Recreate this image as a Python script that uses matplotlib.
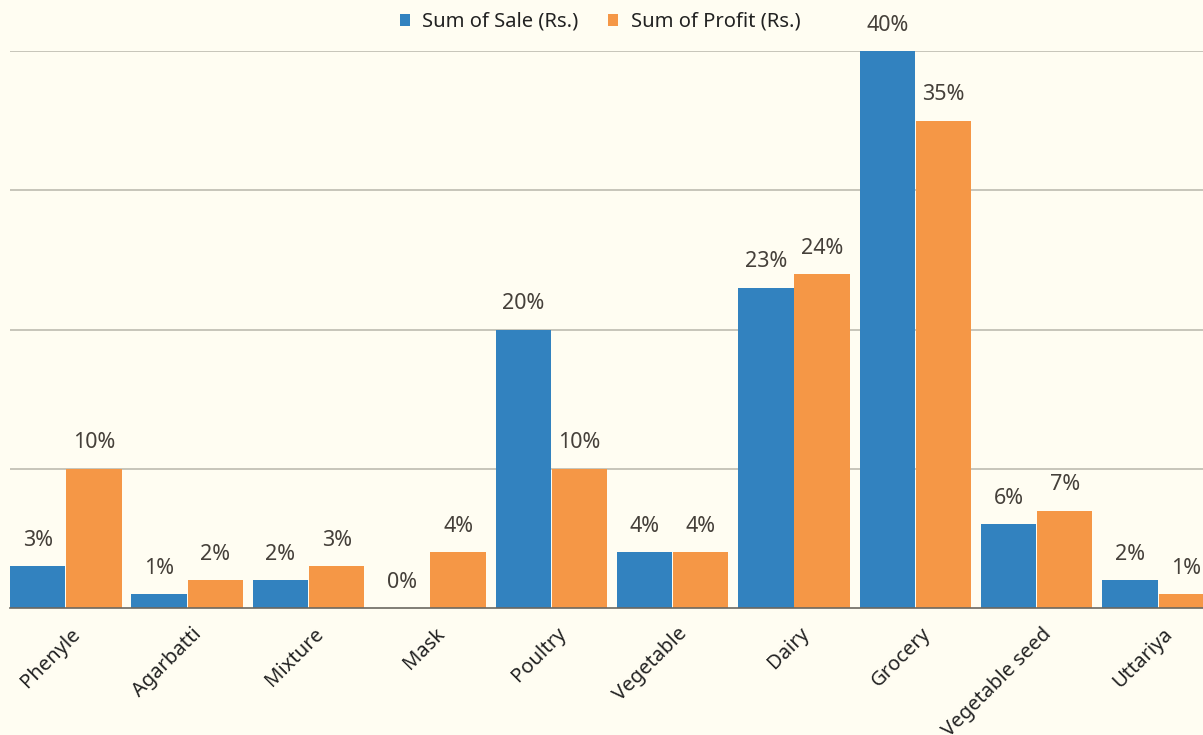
import numpy as np
import matplotlib.pyplot as plt

categories = ["Phenyle", "Agarbatti", "Mixture", "Mask", "Poultry", "Vegetable",
              "Dairy", "Grocery", "Vegetable seed", "Uttariya"]
sale_pct = [3, 1, 2, 0, 20, 4, 23, 40, 6, 2]
profit_pct = [10, 2, 3, 4, 10, 4, 24, 35, 7, 1]

bg = "#fffdf2"
blue = "#3282bf"
orange = "#f59746"
txt = "#45403a"

plt.rcParams['font.family'] = ['Noto Sans', 'DejaVu Sans']

fig = plt.figure(figsize=(12.03, 7.35), dpi=100, facecolor=bg)
ax = fig.add_axes([10 / 1203, 1 - 608 / 735, 1 - 10 / 1203, (608 - 51) / 735])
ax.set_facecolor(bg)

x = np.arange(len(categories))
w = 0.455
b1 = ax.bar(x - w / 2 - 0.004, sale_pct, w, color=blue, label="Sum of Sale (Rs.)", zorder=3)
b2 = ax.bar(x + w / 2 + 0.004, profit_pct, w, color=orange, label="Sum of Profit (Rs.)", zorder=3)

for bars, vals in ((b1, sale_pct), (b2, profit_pct)):
    for r, v in zip(bars, vals):
        ax.annotate(f"{v}%", (r.get_x() + r.get_width() / 2, r.get_height()),
                    xytext=(0, 11), textcoords="offset points",
                    ha="center", va="bottom", fontsize=15.5, color=txt, zorder=4)

ax.set_ylim(0, 40)
ax.set_xlim(-0.46, 9.37)
ax.set_yticks([10, 20, 30, 40])
ax.yaxis.grid(True, color="#bdbbb0", linewidth=1.2, zorder=0)
ax.tick_params(axis="y", left=False, labelleft=False)
ax.tick_params(axis="x", bottom=False, pad=8)
for s in ("top", "right", "left"):
    ax.spines[s].set_visible(False)
ax.spines["bottom"].set_color("#6b6760")
ax.spines["bottom"].set_linewidth(1.2)
ax.spines["bottom"].set_zorder(5)

ax.set_xticks(x + 0.04)
ax.set_xticklabels(categories, rotation=45, ha="right", va="top",
                   rotation_mode="anchor", fontsize=14.5, color="#222222")

fig.legend(handles=[b1, b2], loc="center", bbox_to_anchor=(600 / 1203, 1 - 22 / 735),
           ncol=2, frameon=False, fontsize=14.5, handlelength=0.5, handleheight=0.5,
           handletextpad=0.6, columnspacing=1.5, labelcolor="#222222")

fig.savefig("out.png", dpi=100, facecolor=bg)
